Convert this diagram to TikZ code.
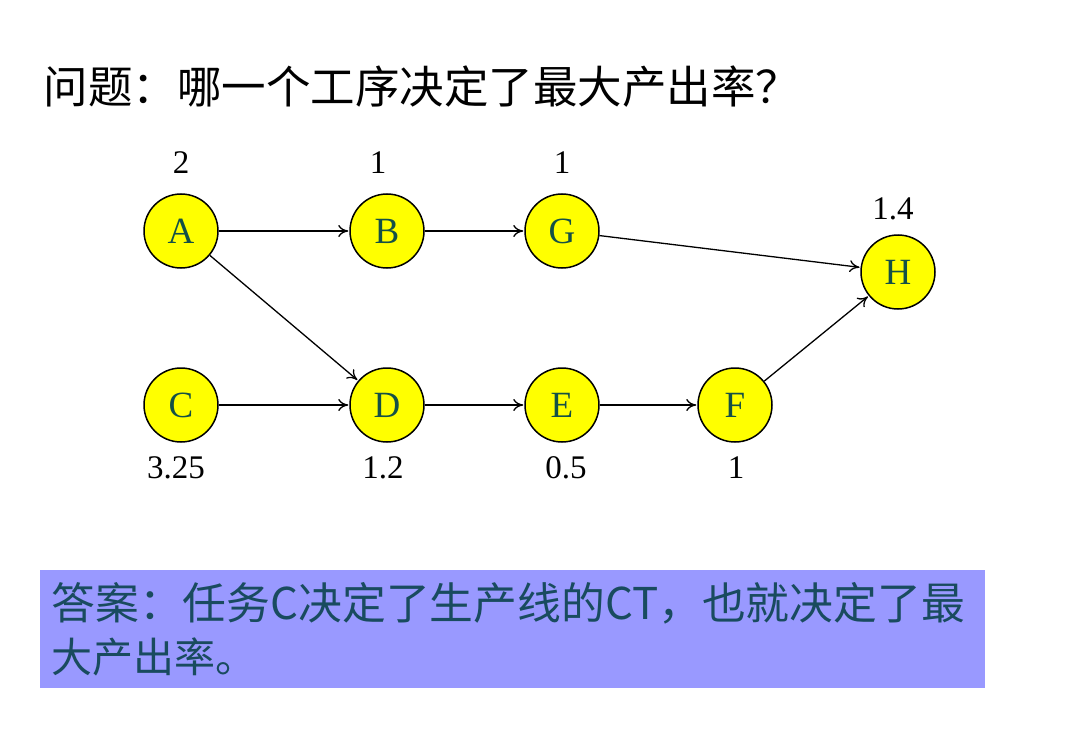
\documentclass[tikz,border=0pt]{standalone}
\usepackage{fontspec}
\setmainfont{Liberation Serif}
\newfontfamily\cjk{Noto Sans CJK SC}
\usetikzlibrary{arrows.meta}
\definecolor{nodeyellow}{RGB}{255,255,0}
\definecolor{lettercol}{RGB}{20,80,70}
\definecolor{boxcol}{RGB}{153,153,255}
\definecolor{anscol}{RGB}{25,75,95}
\tikzset{
  proc/.style={circle,draw=black,line width=1.5pt,fill=nodeyellow,minimum size=74pt,inner sep=0pt,
    text=lettercol,font=\fontsize{37}{37}\selectfont},
  val/.style={font=\fontsize{33}{33}\selectfont,text=black},
  flow/.style={-{To[length=10pt,width=12pt]},line width=1.3pt,black,shorten >=1pt},
}
\begin{document}
\begin{tikzpicture}[x=1pt,y=-1pt]
\useasboundingbox (0,0) rectangle (1080,752);
\fill[white] (0,0) rectangle (1080,752);
\node[anchor=west,font=\cjk\fontsize{44.5}{44.5}\selectfont] (title) at (40,87) {问题：哪一个工序决定了最大产出率？};
\node[proc] (A) at (181,231) {A};
\node[proc] (B) at (387,231) {B};
\node[proc] (G) at (562,231) {G};
\node[proc] (H) at (898,272) {H};
\node[proc] (C) at (181,405) {C};
\node[proc] (D) at (387,405) {D};
\node[proc] (E) at (562,405) {E};
\node[proc] (F) at (735,405) {F};
\node[val] (lA) at (181,163) {2};
\node[val] (lB) at (378,163) {1};
\node[val] (lG) at (562,163) {1};
\node[val] (lH) at (893,209) {1.4};
\node[val] (lC) at (176,468) {3.25};
\node[val] (lD) at (383,468) {1.2};
\node[val] (lE) at (566,468) {0.5};
\node[val] (lF) at (736,468) {1};
\draw[flow] (A) -- (B);
\draw[flow] (B) -- (G);
\draw[flow] (G) -- (H);
\draw[flow] (A) -- (D);
\draw[flow] (C) -- (D);
\draw[flow] (D) -- (E);
\draw[flow] (E) -- (F);
\draw[flow] (F) -- (H);
\node[fill=boxcol,minimum width=945pt,minimum height=118pt,inner sep=0pt,anchor=north west] (box) at (40,570) {};
\node[anchor=west,text=anscol,font=\cjk\fontsize{43.8}{43.8}\selectfont] (ans1) at (48,603) {答案：任务C决定了生产线的CT，也就决定了最};
\node[anchor=west,text=anscol,font=\cjk\fontsize{41}{41}\selectfont] (ans2) at (48,657) {大产出率。};
\end{tikzpicture}
\end{document}
